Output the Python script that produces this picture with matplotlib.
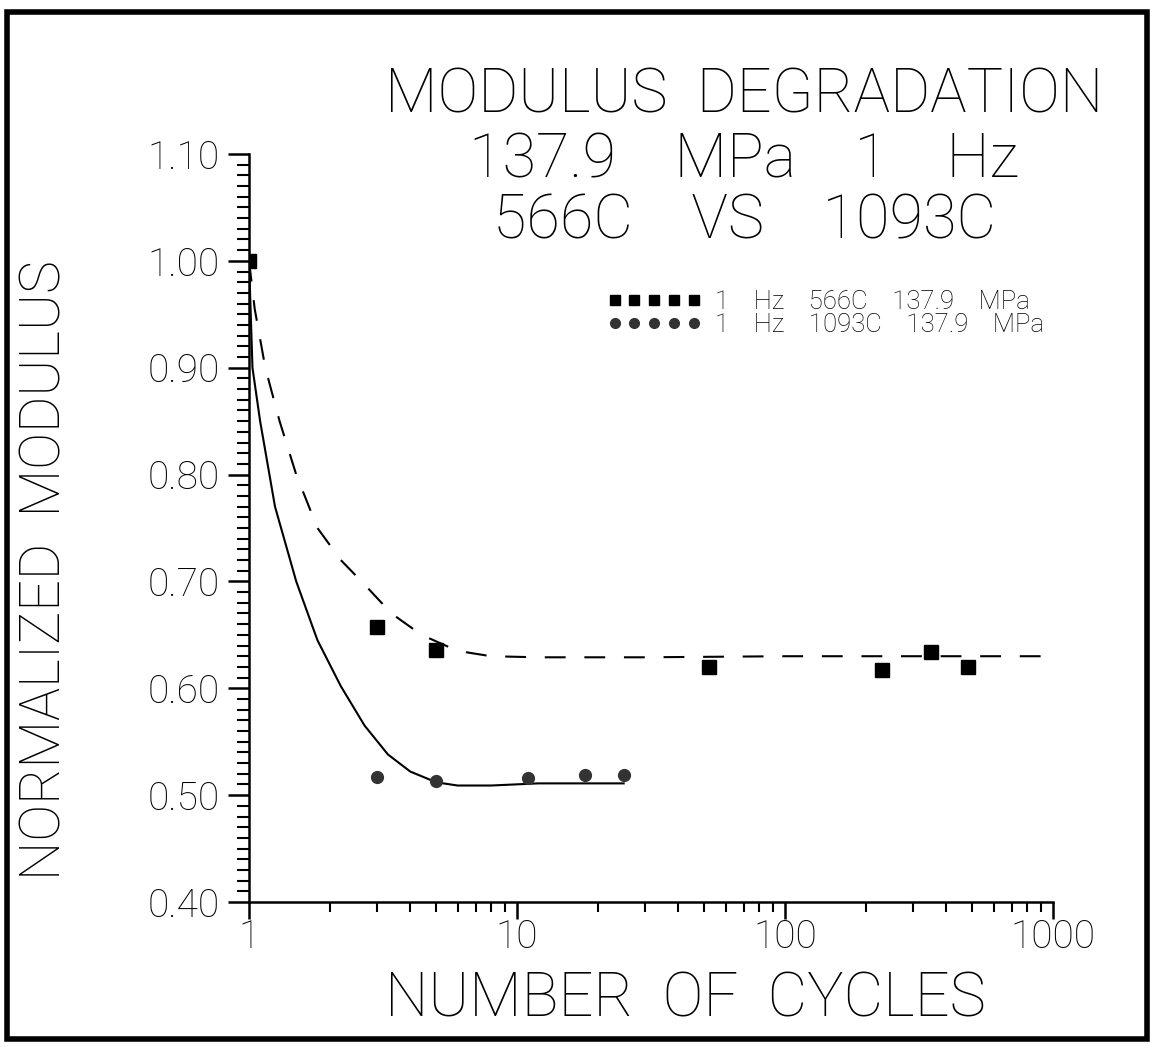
#!/usr/bin/env python3

import numpy as np
from matplotlib import pyplot as plt
from matplotlib.patches import Rectangle
from matplotlib.lines import Line2D
from matplotlib.ticker import MultipleLocator, FixedLocator, NullFormatter

# measured points
cyc_566 = [1, 3, 5, 52, 230, 350, 480]
mod_566 = [1.000, 0.657, 0.636, 0.620, 0.617, 0.634, 0.620]
cyc_1093 = [1, 3, 5, 11, 18, 25]
mod_1093 = [1.000, 0.517, 0.513, 0.516, 0.519, 0.519]

# fitted curves
fit_x_566 = [1.0, 1.05, 1.15, 1.3, 1.5, 1.8, 2.2, 2.7, 3.4, 4.4, 6.0, 8.0, 12, 30, 100, 300, 1000]
fit_y_566 = [1.0, 0.955, 0.90, 0.85, 0.80, 0.75, 0.72, 0.697, 0.67, 0.65, 0.635, 0.630, 0.629, 0.629, 0.630, 0.630, 0.630]
fit_x_1093 = [1.0, 1.03, 1.1, 1.25, 1.5, 1.8, 2.2, 2.7, 3.3, 4.0, 5.0, 6.0, 8.0, 12, 25]
fit_y_1093 = [1.0, 0.90, 0.85, 0.77, 0.70, 0.645, 0.602, 0.565, 0.538, 0.522, 0.512, 0.509, 0.509, 0.511, 0.511]

lbl_566 = '1    Hz    566C    137.9    MPa'
lbl_1093 = '1    Hz    1093C    137.9    MPa'

plt.rcParams['font.family'] = ['Roboto', 'DejaVu Sans']
plt.rcParams['font.weight'] = 'light'
plt.rcParams['axes.labelweight'] = 'light'

fig = plt.figure(figsize=(11.54, 10.47), dpi=100)
ax = fig.add_axes([0.2158, 0.1385, 0.6967, 0.7144])

ax.plot(fit_x_566, fit_y_566, color='black', lw=1.5, ls=(0, (10, 9)))
ax.plot(fit_x_1093, fit_y_1093, color='black', lw=1.5)
ax.plot(cyc_1093, mod_1093, 'o', color='#333333', ms=8.5, ls='none')
ax.plot(cyc_566, mod_566, 's', color='black', ms=10, ls='none')

ax.set_xscale('log')
ax.set_xlim(1, 1000)
ax.set_ylim(0.40, 1.10)
ax.yaxis.set_major_locator(MultipleLocator(0.1))
ax.yaxis.set_minor_locator(MultipleLocator(0.01))
ax.set_yticklabels(['%.2f' % v for v in ax.get_yticks()])
ax.xaxis.set_major_locator(FixedLocator([1, 10, 100, 1000]))
ax.set_xticklabels(['1', '10', '100', '1000'])
ax.xaxis.set_minor_formatter(NullFormatter())

for s in ['top', 'right']:
    ax.spines[s].set_visible(False)
for s in ['left', 'bottom']:
    ax.spines[s].set_linewidth(1.8)
ax.tick_params(axis='y', which='major', length=15, width=1.8, labelsize=28, pad=6)
ax.tick_params(axis='y', which='minor', length=9, width=1.5)
ax.tick_params(axis='x', which='major', length=12, width=1.8, labelsize=28, pad=0)
ax.tick_params(axis='x', which='minor', length=7, width=1.5)

fig.text(0.039, 0.456, 'NORMALIZED  MODULUS', rotation=90, ha='center', va='center', fontsize=40)
fig.text(0.594, 0.045, 'NUMBER  OF  CYCLES', ha='center', va='center', fontsize=44)

fig.text(0.645, 0.909, 'MODULUS  DEGRADATION', ha='center', va='center', fontsize=44)
fig.text(0.645, 0.847, '137.9    MPa    1    Hz', ha='center', va='center', fontsize=44)
fig.text(0.645, 0.788, '566C    VS    1093C', ha='center', va='center', fontsize=44)

hnd = [Line2D([], [], marker='s', color='black', ms=7, ls='none'),
       Line2D([], [], marker='o', color='#333333', ms=7, ls='none')]
ax.legend(hnd, [lbl_566, lbl_1093], loc='upper left', bbox_to_anchor=(0.445, 0.818),
          numpoints=5, handlelength=3.7, frameon=False, fontsize=18.5,
          labelspacing=-0.05, handletextpad=0.5, borderpad=0, borderaxespad=0)

fig.patches.append(Rectangle((0.006, 0.008), 0.988, 0.981, transform=fig.transFigure,
                             fill=False, lw=4, ec='black'))

fig.savefig('out.png')
plt.close()
